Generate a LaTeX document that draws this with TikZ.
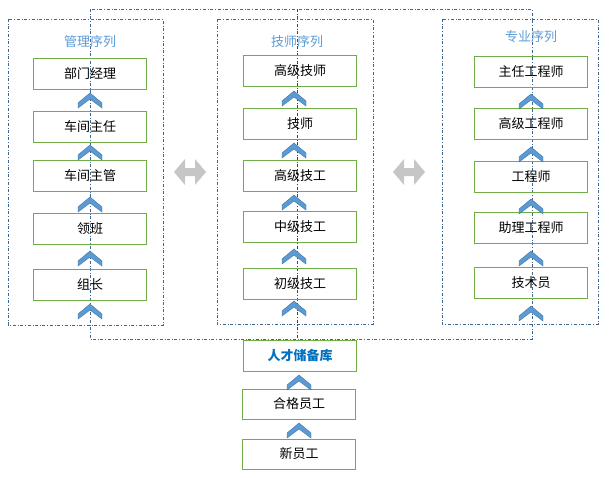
\documentclass[tikz,border=0pt]{standalone}
\usepackage{fontspec}
\newfontfamily\cjk{Noto Sans CJK SC}
\usetikzlibrary{positioning}
\definecolor{boxgreen}{HTML}{70AD47}
\definecolor{dashblue}{HTML}{41668F}
\definecolor{titleblue}{HTML}{5B9BD5}
\definecolor{poolblue}{HTML}{0070C0}
\definecolor{chevfill}{HTML}{5B9BD5}
\definecolor{chevdraw}{HTML}{41719C}
\tikzset{
  every node/.style = {font=\cjk\fontsize{13}{15}\selectfont},
        box/.style = {rectangle, draw=boxgreen, line width=0.8pt, minimum width=113pt, minimum height=31pt, inner sep=0pt},
      group/.style = {draw=dashblue, dash dot, line width=0.6pt},
      title/.style = {text=titleblue},
  chev/.pic = {\filldraw[fill=chevfill, draw=chevdraw, line width=0.4pt]
                 (-12,5) -- (0,-5) -- (12,5) -- (12,10) -- (0,1) -- (-12,10) -- cycle;},
  swap/.pic = {\fill[gray!45]
                 (-16,0) -- (-5,-13) -- (-5,-4) -- (5,-4) -- (5,-13) -- (16,0)
                 -- (5,13) -- (5,4) -- (-5,4) -- (-5,13) -- cycle;}
}
\begin{document}
\begin{tikzpicture}[x=1pt, y=-1pt]
\useasboundingbox (0,0) rectangle (610,477);
% outer frame and centre line
\draw[group] (90,9) rectangle (532,339);
\draw[group, draw=dashblue!70!black] (297,9) -- (297,339);
% column frames
\draw[group] (8,19) rectangle (163,325);
\draw[group] (217,19) rectangle (373,324);
\draw[group] (442,19) rectangle (598,324);
\node[title] (t1) at (90,42) {管理序列};
\node[title] (t2) at (297,42) {技师序列};
\node[title] (t3) at (531,37) {专业序列};
% management
\node (m1) [box] at (90,74) {部门经理};
\node (m2) [box] at (90,127) {车间主任};
\node (m3) [box] at (90,176) {车间主管};
\node (m4) [box] at (90,229) {领班};
\node (m5) [box] at (90,285) {组长};
% technician
\node (s1) [box] at (300,71) {高级技师};
\node (s2) [box] at (300,124) {技师};
\node (s3) [box] at (300,176) {高级技工};
\node (s4) [box] at (300,227) {中级技工};
\node (s5) [box] at (300,284) {初级技工};
% professional
\node (p1) [box] at (531,72) {主任工程师};
\node (p2) [box] at (531,124) {高级工程师};
\node (p3) [box] at (531,177) {工程师};
\node (p4) [box] at (531,228) {助理工程师};
\node (p5) [box] at (531,283) {技术员};
% base
\node (pool) [box, text=poolblue, font=\cjk\bfseries\fontsize{13}{15}\selectfont] at (300,356) {人才储备库};
\node (qual) [box, minimum height=30pt] at (299,404) {合格员工};
\node (new)  [box, minimum height=30pt] at (299,454) {新员工};
% chevrons
\foreach \y in {98,150,202,256,309} \pic at (90,\y) {chev};
\foreach \y in {96,148,200,254,306} \pic at (294,\y) {chev};
\foreach \y in {99,152,204,256,311} \pic at (531,\y) {chev};
\pic at (299,380) {chev};
\pic at (299,428) {chev};
% exchange between sequences
\pic at (190,172) {swap};
\pic at (409,172) {swap};
\end{tikzpicture}
\end{document}
